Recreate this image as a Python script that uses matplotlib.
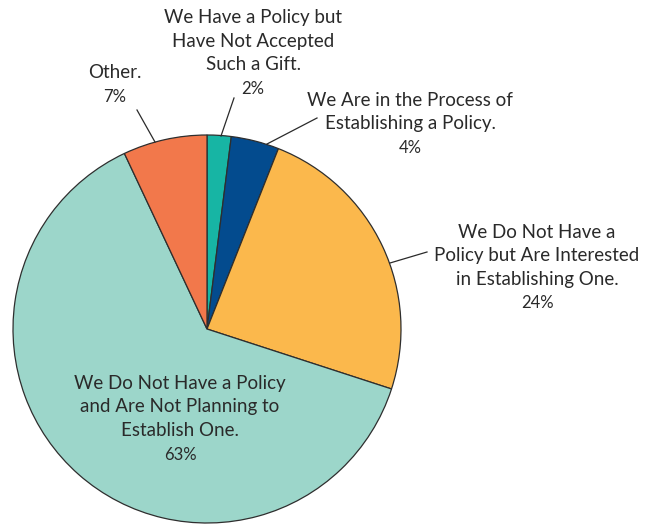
import numpy as np
import matplotlib.pyplot as plt

# policy responses, clockwise from 12 o'clock
labels = [
    "We Have a Policy but\nHave Not Accepted\nSuch a Gift.",
    "We Are in the Process of\nEstablishing a Policy.",
    "We Do Not Have a\nPolicy but Are Interested\nin Establishing One.",
    "We Do Not Have a Policy\nand Are Not Planning to\nEstablish One.",
    "Other.",
]
shares = [2, 4, 24, 63, 7]
colors = ["#17b5a4", "#034b8e", "#fbb84c", "#9cd6ca", "#f2784b"]

# label anchor (center x, top line y) in pixels from top-left, plus leader line
label_pos = [(253, 18), (410, 100), (537, 232), (180, 383), (115, 73)]
leaders = [
    ((221, 136), (234, 98)),
    ((267, 144), (317, 118)),
    ((390, 263), (427, 252)),
    None,
    ((155, 142), (137, 110)),
]

W, H = 655, 524
fig = plt.figure(figsize=(W / 100, H / 100), dpi=100)
ax = fig.add_axes([0, 0, 1, 1])

cx, cy, r = 207, H - 329, 194
ax.pie(shares, colors=colors, startangle=90, counterclock=False,
       center=(cx, cy), radius=r, frame=True,
       wedgeprops=dict(edgecolor="#2e2e2e", linewidth=0.9))
ax.set_xlim(0, W)
ax.set_ylim(0, H)
ax.set_aspect("equal")
ax.axis("off")

text_color = "#2a2a2a"
line_h = 23.5
for lab, val, (x, y), ld in zip(labels, shares, label_pos, leaders):
    lines = lab.split("\n")
    for i, ln in enumerate(lines):
        ax.text(x, H - (y + i * line_h), ln, ha="center", va="center",
                fontsize=13.5, family="Lato", color=text_color)
    ax.text(x, H - (y + len(lines) * line_h + 1), f"{val}%", ha="center",
            va="center", fontsize=12, family="Lato", color=text_color)
    if ld is not None:
        (x0, y0), (x1, y1) = ld
        ax.plot([x0, x1], [H - y0, H - y1], color="#2a2a2a", linewidth=0.9)

fig.savefig("out.png", dpi=100)
